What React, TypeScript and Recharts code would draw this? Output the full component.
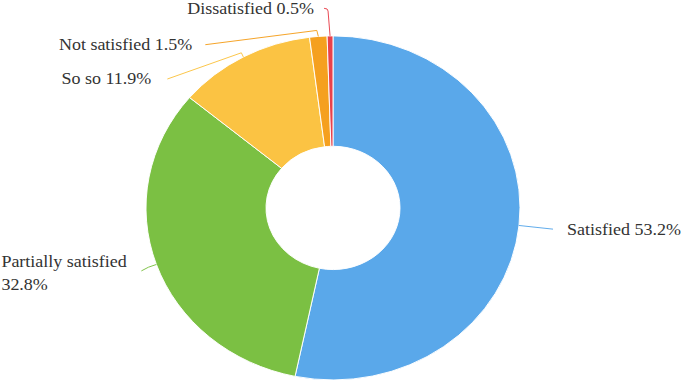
import React from 'react';
import { PieChart, Pie, Cell } from 'recharts';

const categories = ['Satisfied', 'Partially satisfied', 'So so', 'Not satisfied', 'Dissatisfied'];
const shares = [53.2, 32.8, 11.9, 1.5, 0.5];
const colors = ['#5AA8EA', '#7BC043', '#FBC343', '#F5A01F', '#E8414B'];

const data = categories.map((name, i) => ({ name, value: shares[i] }));

// leader line shapes (offsets from the slice's outer edge point, unscaled px)
const leaders = [
  { elbow: [17, 2], end: [34, 4], text: [48, 5], anchor: 'start' },
  { elbow: [-8, 3], end: [-15, 7], text: [-155, -4], anchor: 'start' },
  { elbow: [-2, -4.5], end: [-76, 24], text: [-92, 24], anchor: 'end' },
  { elbow: [-1.5, -6.5], end: [-113, 9], text: [-126, 9], anchor: 'end' },
  { elbow: [-2, -27], end: [-6, -30], text: [-16, -30], anchor: 'end' },
];

const RADIAN = Math.PI / 180;

const renderLabel = (props: any) => {
  const { cx, cy, midAngle, outerRadius, index, name, value } = props;
  const px = cx + outerRadius * Math.cos(-midAngle * RADIAN);
  const py = cy + outerRadius * Math.sin(-midAngle * RADIAN);
  const l = leaders[index];
  const ex = px + l.end[0];
  const ey = py + l.end[1];
  const mx = px + l.elbow[0];
  const my = py + l.elbow[1];
  const d =
    index === 4
      ? `M${px},${py} L${mx},${my} Q${mx},${ey} ${ex},${ey}`
      : `M${px},${py} L${mx},${my} L${ex},${ey}`;
  const tx = px + l.text[0];
  const ty = py + l.text[1];
  return (
    <g key={`lbl-${index}`}>
      <path d={d} stroke={colors[index]} strokeWidth={1} fill="none" />
      {index === 1 ? (
        <text x={tx} y={ty} fontFamily="Liberation Serif" fontSize={18} fill="#333" textAnchor="start" dominantBaseline="central">
          <tspan x={tx} dy={0}>{name}</tspan>
          <tspan x={tx} dy={25}>{`${value}%`}</tspan>
        </text>
      ) : (
        <text x={tx} y={ty} fontFamily="Liberation Serif" fontSize={18} fill="#333" textAnchor={l.anchor as any} dominantBaseline="central">
          {`${name} ${value}%`}
        </text>
      )}
    </g>
  );
};

export default function App() {
  return (
    <div
      style={{
        position: 'absolute',
        left: 0,
        top: 0,
        width: 685,
        height: 383,
        overflow: 'hidden',
        background: '#fff',
        fontFamily: 'Liberation Serif',
      }}
    >
      <div style={{ width: 685, height: 416, transform: 'scaleY(0.92)', transformOrigin: 'top left' }}>
        <PieChart width={685} height={416} margin={{ top: 0, right: 0, bottom: 0, left: 0 }}>
          <Pie
            data={data}
            dataKey="value"
            nameKey="name"
            cx={333}
            cy={226}
            innerRadius={67}
            outerRadius={187}
            startAngle={90}
            endAngle={-270}
            stroke="#fff"
            strokeWidth={1}
            label={renderLabel}
            labelLine={false}
            isAnimationActive={false}
          >
            {data.map((d, i) => (
              <Cell key={d.name} fill={colors[i]} />
            ))}
          </Pie>
        </PieChart>
      </div>
    </div>
  );
}
